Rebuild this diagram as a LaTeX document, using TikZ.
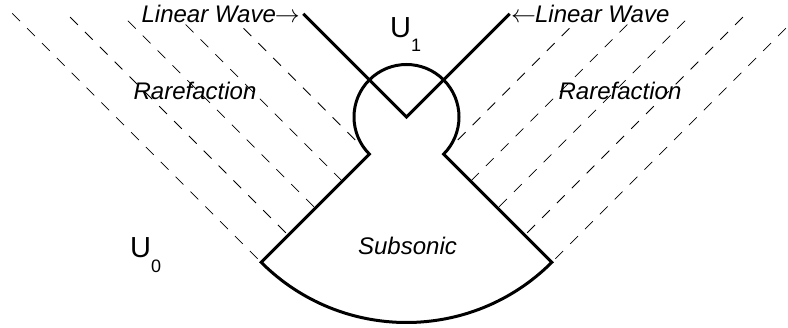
\documentclass[tikz,border=0pt]{standalone}
\usepackage{fontspec}
\setmainfont{Liberation Sans}
\usetikzlibrary{calc}
\begin{document}
\begin{tikzpicture}[x=1pt,y=1pt,
  wave/.style={line width=3pt, line join=miter},
  fan/.style={line width=0.8pt, dash pattern=on 11pt off 10pt},
  lbl/.style={font=\fontsize{24}{28}\selectfont\itshape, inner sep=0pt},
  ulbl/.style={font=\fontsize{29}{32}\selectfont, inner sep=0pt}]
\useasboundingbox (0,0) rectangle (788,-328);
\clip (0,0) rectangle (788,-328);
\coordinate (O) at (406.5,-117);
\coordinate (lwEndL) at ($(O)+(135:146)$);
\coordinate (lwEndR) at ($(O)+(45:146)$);
% rarefaction fans
\foreach \k [evaluate=\k as \s using 52.5+38.25*\k, evaluate=\k as \L using 178+43.5*\k] in {0,...,4}{
  \coordinate (eL\k) at ($(O)+(225:\s)$);
  \coordinate (eR\k) at ($(O)+(-45:\s)$);
  \draw[fan] ($(eL\k)+(135:\L)$) -- (eL\k);
  \draw[fan] ($(eR\k)+(45:\L)$) -- (eR\k);
}
% linear waves
\draw[wave] (lwEndL) -- (O) -- (lwEndR);
% subsonic region with circle
\draw[wave] (eL0) arc[start angle=225, end angle=-45, radius=52.5]
  -- (eR4) arc[start angle=-45, end angle=-135, radius=205.5] -- cycle;
% labels
\node[lbl, anchor=base east] (lwl) at (300,-23) {Linear Wave\kern-1pt$\rightarrow$};
\node[lbl, anchor=base west] (lwr) at (511,-23) {$\leftarrow$\kern-1pt Linear Wave};
\node[lbl, anchor=base] (rl) at (195,-100) {Rarefaction};
\node[lbl, anchor=base] (rr) at (620,-100) {Rarefaction};
\node[lbl, anchor=base] (sub) at (407.5,-255) {Subsonic};
\node[ulbl, anchor=base west] (u1) at (390,-38) {U\raisebox{-14pt}{\fontsize{18}{20}\selectfont 1}};
\node[ulbl, anchor=base west] (u0) at (130,-258) {U\raisebox{-15pt}{\fontsize{18}{20}\selectfont 0}};
\end{tikzpicture}
\end{document}
